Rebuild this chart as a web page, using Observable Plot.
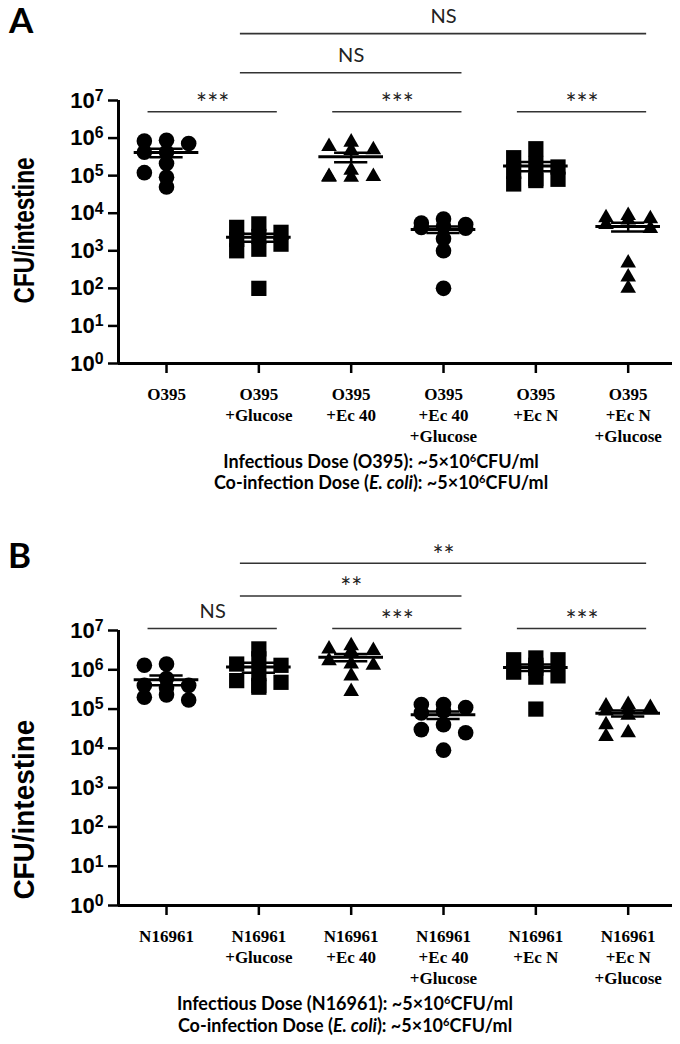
<!DOCTYPE html>
<html><head><meta charset="utf-8">
<script src="https://cdn.jsdelivr.net/npm/d3@7"></script>
<script src="https://cdn.jsdelivr.net/npm/@observablehq/plot@0.6"></script>
<style>
body{margin:0;background:#fff;width:680px;height:1044px;position:relative;overflow:hidden;}
.panel{position:absolute;left:0;z-index:1}
.letter{position:absolute;z-index:2;font-family:Lato,sans-serif;font-weight:700;font-size:35px;line-height:1}
.cap{position:absolute;z-index:2;font-family:Lato,sans-serif;font-weight:700;font-size:18px;white-space:nowrap;line-height:18px;height:18px;text-align:center;transform:translateX(-50%)}
.cap .sup{font-size:0.62em;position:relative;top:-0.5em;line-height:0}
</style></head><body>
<div id="A" class="panel" style="top:0"></div>
<div class="letter" style="left:9px;top:2px">A</div>
<div class="cap" style="left:381px;top:452px">Infectious Dose (O395): ~5×10<span class="sup">6</span>CFU/ml</div>
<div class="cap" style="left:381px;top:473px">Co-infection Dose (<i>E. coli</i>): ~5×10<span class="sup">6</span>CFU/ml</div>
<div id="B" class="panel" style="top:505px"></div>
<div class="letter" style="left:8px;top:537px">B</div>
<div class="cap" style="left:345px;top:994px">Infectious Dose (N16961): ~5×10<span class="sup">6</span>CFU/ml</div>
<div class="cap" style="left:345px;top:1016px">Co-infection Dose (<i>E. coli</i>): ~5×10<span class="sup">6</span>CFU/ml</div>
<script>
// ---- data ----
const groupsA = ["O395", "O395\n+Glucose", "O395\n+Ec 40", "O395\n+Ec 40\n+Glucose", "O395\n+Ec N", "O395\n+Ec N\n+Glucose"];
const groupsB = ["N16961", "N16961\n+Glucose", "N16961\n+Ec 40", "N16961\n+Ec 40\n+Glucose", "N16961\n+Ec N", "N16961\n+Ec N\n+Glucose"];
const shapes = ["circle", "square", "triangle", "circle", "square", "triangle"];
const yTicks = [1, 10, 100, 1e3, 1e4, 1e5, 1e6, 1e7];

const a1 = [8.7e5, 8.3e5, 7.2e5, 4.2e5, 4.2e5, 2.1e5, 1.2e5, 9.0e4, 5.0e4];
const a2 = [5.2e3, 4.2e3, 3.1e3, 2.4e3, 2.0e3, 1.5e3, 1.1e3, 1.0e3, 1.0e2];
const a3 = [7.8e5, 6.0e5, 4.9e5, 4.7e5, 1.4e5, 9.5e4, 9.5e4, 9.0e4, 9.0e4];
const a4 = [7.0e3, 5.5e3, 5.0e3, 4.5e3, 4.2e3, 4.0e3, 2.1e3, 1.0e3, 1.0e2];
const a5 = [5.2e5, 3.0e5, 2.1e5, 1.7e5, 1.3e5, 8.3e4, 8.0e4, 7.4e4, 6.0e4];
const a6 = [8.7e3, 7.6e3, 7.1e3, 6.6e3, 5.0e3, 3.9e3, 4.7e2, 2.0e2, 1.0e2];

const b1 = [1.4e6, 1.3e6, 6.0e5, 4.0e5, 4.0e5, 3.5e5, 2.3e5, 2.0e5, 1.7e5];
const b2 = [3.4e6, 1.9e6, 1.4e6, 1.3e6, 8.0e5, 5.3e5, 4.8e5, 4.0e5, 3.6e5];
const b3 = [4.1e6, 3.4e6, 3.1e6, 2.9e6, 1.7e6, 1.4e6, 1.3e6, 7.0e5, 2.8e5];
const b4 = [1.3e5, 1.3e5, 1.1e5, 9.0e4, 8.0e4, 4.0e4, 3.0e4, 2.5e4, 9.0e3];
const b5 = [2.0e6, 1.8e6, 1.8e6, 1.3e6, 1.1e6, 8.7e5, 7.0e5, 6.5e5, 1.0e5];
const b6 = [1.3e5, 1.2e5, 1.1e5, 1.0e5, 9.0e4, 7.0e4, 4.0e4, 2.5e4, 2.0e4];

const compFromA = [0, 2, 4, 1, 1];
const compToA = [1, 3, 5, 3, 5];
const compLabelA = ["***", "***", "***", "NS", "NS"];
const compTierA = [0, 0, 0, 1, 2];
const compFromB = [0, 2, 4, 1, 1];
const compToB = [1, 3, 5, 3, 5];
const compLabelB = ["NS", "***", "***", "**", "**"];
const compTierB = [0, 0, 0, 1, 2];

// ---- layout helpers ----
const xDom = [-0.52, 5.48];
function scatterRows(values) {
  const rows = [];
  values.forEach((vals, g) => {
    const placed = [];
    for (const v of vals) {
      const ly = Math.log10(v);
      let best = 0, bestScore = Infinity;
      for (const k of [0, -1, 1, -2, 2]) {
        const c = k * 0.12;
        const score = placed.filter(p => Math.abs(p.ly - ly) < 0.25 && Math.abs(p.c - c) < 0.2).length;
        if (score < bestScore) { bestScore = score; best = c; }
        if (score === 0) break;
      }
      placed.push({ly, c: best});
      rows.push({g, v, x: g + best, shape: shapes[g]});
    }
  });
  return rows;
}

function makePanel(cfg) {
  const {groups, values, from, to, labels, tiers, tierBase, tierStep, marginTop, innerH, labelY, labelLen} = cfg;
  const rows = scatterRows(values);
  const stats = values.map((vals, g) => {
    const m = d3.mean(vals), se = d3.deviation(vals) / Math.sqrt(vals.length);
    return {g, m, lo: m - se, hi: m + se};
  });
  const comps = from.map((f, i) => ({from: f, to: to[i], label: labels[i], tier: tiers[i]}));
  const pad = 0.2;
  const cy = c => 10 ** (tierBase + c.tier * tierStep);
  const cx = c => (c.from + c.to) / 2;
  const marks = [
    Plot.axisY({ticks: yTicks, tickSize: 10, tickPadding: 5, strokeWidth: 2.5, label: null,
      tickFormat: d => "10^" + Math.round(Math.log10(d)),
      fontSize: 22, fontWeight: 700, fontFamily: "Liberation Sans, Arial, sans-serif"}),
    Plot.axisX({ticks: d3.range(groups.length), tickSize: 10, strokeWidth: 2.5, label: null, tickFormat: () => ""}),
    Plot.ruleY([1], {strokeWidth: 3, stroke: "black"}),
    Plot.ruleX([xDom[0]], {y1: 1, y2: 1e7, strokeWidth: 3, stroke: "black"}),
    Plot.text(groups, {x: (d, i) => i, text: d => d, frameAnchor: "bottom", lineAnchor: "top", dy: 21,
      fontFamily: "Liberation Serif, Times New Roman, serif", fontWeight: 700, fontSize: 17, lineHeight: 1.25}),
    Plot.text(["CFU/intestine"], {text: d => d, y: () => 10 ** labelY, frameAnchor: "left", dx: -94, rotate: -90,
      textAnchor: "start", fontSize: 30, fontWeight: 700, fontFamily: "Liberation Sans, Arial, sans-serif"}),
    // significance bars
    Plot.ruleY(comps, {x1: c => c.from - pad, x2: c => c.to + pad, y: cy, stroke: "#333", strokeWidth: 1.6}),
    Plot.text(comps.filter(c => c.label === "NS"), {x: cx, y: cy, text: "label", dy: -17, fontSize: 20, fontFamily: "Lato, sans-serif", fill: "#222"}),
    Plot.text(comps.filter(c => c.label !== "NS"), {x: cx, y: cy, text: "label", dy: -7, fontSize: 26, fontFamily: "Lato, sans-serif", fill: "#222"}),
    // points
    Plot.dot(rows.filter(d => d.shape === "circle"), {x: "x", y: "v", symbol: "circle", r: 7.8, fill: "black"}),
    Plot.dot(rows.filter(d => d.shape === "square"), {x: "x", y: "v", symbol: "square", r: 8.6, fill: "black"}),
    Plot.dot(rows.filter(d => d.shape === "triangle"), {x: "x", y: "v", symbol: "triangle", r: 5.8, fill: "black"}),
    // mean and SEM
    Plot.ruleX(stats, {x: "g", y1: "lo", y2: "hi", strokeWidth: 2.5, stroke: "black"}),
    Plot.ruleY(stats, {y: "hi", x1: d => d.g - 0.18, x2: d => d.g + 0.18, strokeWidth: 2.5, stroke: "black"}),
    Plot.ruleY(stats, {y: "lo", x1: d => d.g - 0.18, x2: d => d.g + 0.18, strokeWidth: 2.5, stroke: "black"}),
    Plot.ruleY(stats, {y: "m", x1: d => d.g - 0.35, x2: d => d.g + 0.35, strokeWidth: 3, stroke: "black"})
  ];
  const svg = Plot.plot({
    width: 680, height: marginTop + innerH + 85,
    marginTop, marginBottom: 85, marginLeft: 118, marginRight: 8,
    x: {domain: xDom, axis: null},
    y: {type: "log", domain: [1, 1e7], axis: null},
    style: {background: "transparent", color: "black", overflow: "visible"},
    marks
  });
  svg.querySelectorAll('g[aria-label="y-axis tick label"] text').forEach(t => {
    const m = t.textContent.match(/^10\^(\d+)$/);
    if (!m) return;
    t.textContent = "10";
    const ts = document.createElementNS("http://www.w3.org/2000/svg", "tspan");
    ts.setAttribute("dy", "-0.42em");
    ts.setAttribute("font-size", "0.72em");
    ts.textContent = m[1];
    t.appendChild(ts);
  });
  svg.querySelectorAll("text").forEach(t => {
    if (t.textContent === "CFU/intestine") {
      t.setAttribute("textLength", labelLen);
      t.setAttribute("lengthAdjust", "spacingAndGlyphs");
    }
  });
  return svg;
}

document.getElementById("A").appendChild(makePanel({
  groups: groupsA, values: [a1, a2, a3, a4, a5, a6],
  from: compFromA, to: compToA, labels: compLabelA, tiers: compTierA,
  tierBase: 6.7, tierStep: 1.04, marginTop: 100, innerH: 263, labelY: 1.6, labelLen: 146
}));
document.getElementById("B").appendChild(makePanel({
  groups: groupsB, values: [b1, b2, b3, b4, b5, b6],
  from: compFromB, to: compToB, labels: compLabelB, tiers: compTierB,
  tierBase: 7.05, tierStep: 0.83, marginTop: 125, innerH: 275, labelY: 0.15, labelLen: 180
}));
</script>
</body></html>
